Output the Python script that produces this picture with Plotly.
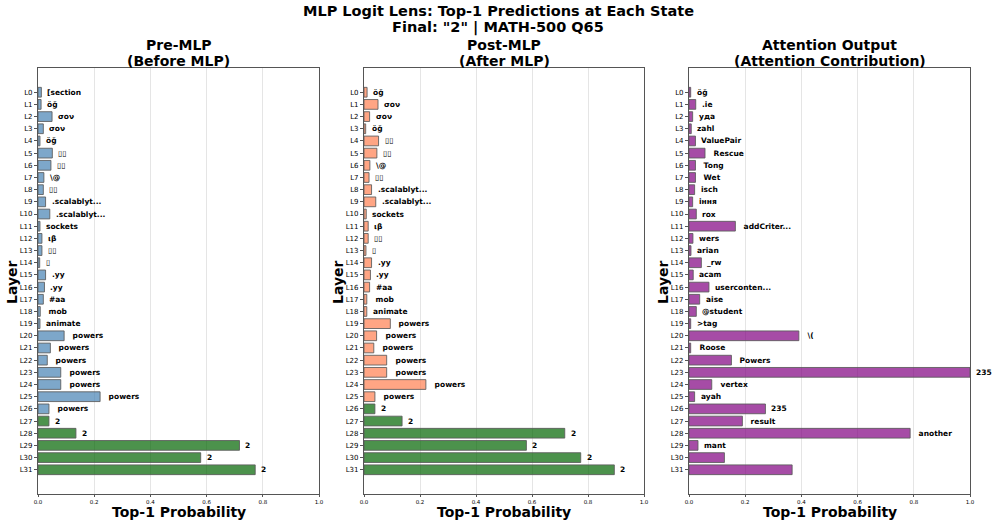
import plotly.graph_objects as go

NB = "\u00a0"
layers = [f"L{i}" for i in range(32)]
final_token = "2"

pre_tokens = ["[section", "öğ", "σον", "σον", "öğ", "▯▯", "▯▯", "\\@", "▯▯", ".scalablyt...",
              ".scalablyt...", "sockets", "ιβ", "▯▯", "▯", ".yy", ".yy", "#aa", NB + "mob", "animate",
              NB + "powers", NB + "powers", NB + "powers", NB + "powers", NB + "powers", NB + "powers",
              NB + "powers", "2", "2", "2", "2", "2"]
pre_probs = [0.012, 0.011, 0.050, 0.019, 0.007, 0.051, 0.046, 0.021, 0.019, 0.027,
             0.042, 0.007, 0.014, 0.014, 0.006, 0.027, 0.023, 0.019, 0.008, 0.007,
             0.093, 0.044, 0.033, 0.081, 0.081, 0.221, 0.039, 0.039, 0.135, 0.717,
             0.579, 0.773]

post_tokens = ["öğ", "σον", "σον", "öğ", "▯▯", "▯▯", "\\@", "▯▯", ".scalablyt...", ".scalablyt...",
               "sockets", "ιβ", "▯▯", "▯", ".yy", ".yy", "#aa", NB + "mob", "animate", NB + "powers",
               NB + "powers", NB + "powers", NB + "powers", NB + "powers", NB + "powers", NB + "powers",
               "2", "2", "2", "2", "2", "2"]
post_probs = [0.011, 0.050, 0.020, 0.006, 0.052, 0.046, 0.021, 0.018, 0.027, 0.042,
              0.008, 0.015, 0.015, 0.007, 0.027, 0.023, 0.020, 0.010, 0.010, 0.094,
              0.045, 0.035, 0.081, 0.081, 0.221, 0.039, 0.039, 0.136, 0.717, 0.580,
              0.774, 0.894]

attn_tokens = ["öğ", ".ie", "уда", "zahl", "ValuePair", NB + "Rescue", NB + "Tong", NB + "Wet", "isch", "іння",
               "rox", NB + "addCriter...", "wers", "arian", "_rw", "acam", "userconten...", "aise", "@student", ">tag",
               NB + "\\(", NB + "Roose", NB + "Powers", "235", NB + "vertex", "ayah", "235", NB + "result",
               NB + "another", "mant", "", ""]
attn_probs = [0.006, 0.024, 0.013, 0.008, 0.023, 0.057, 0.023, 0.023, 0.020, 0.013,
              0.026, 0.165, 0.014, 0.007, 0.044, 0.015, 0.071, 0.038, 0.026, 0.006,
              0.391, 0.006, 0.151, 1.000, 0.081, 0.020, 0.272, 0.190, 0.787, 0.032,
              0.126, 0.367]

title_lines = ["MLP Logit Lens: Top-1 Predictions at Each State", "Final: \"2\" | MATH-500 Q65"]
panel_titles = [["Pre-MLP", "(Before MLP)"], ["Post-MLP", "(After MLP)"],
                ["Attention Output", "(Attention Contribution)"]]
x_label = "Top-1 Probability"
y_label = "Layer"
base_colors = ["rgba(70,130,180,0.7)", "rgba(255,127,80,0.7)", "rgba(128,0,128,0.7)"]
match_color = "rgba(0,100,0,0.7)"
x_ticks = [0.0, 0.2, 0.4, 0.6, 0.8, 1.0]

W, H = 996, 524
PX0, PX1 = 38, 970      # plot area in page pixels
PY0, PY1 = 68, 494
L = PX0
R = W - PX1
T = PY0
B = H - PY1


def px_x(p):
    return (p - PX0) / (PX1 - PX0)


def px_y(p):
    return (PY1 - p) / (PY1 - PY0)


domains = [[px_x(38), px_x(319)], [px_x(364), px_x(644)], [px_x(689), px_x(970)]]

fig = go.Figure()
panels = [(pre_tokens, pre_probs), (post_tokens, post_probs), (attn_tokens, attn_probs)]
font = "DejaVu Sans, Verdana, sans-serif"


def fmt(t):
    if t and set(t) <= {"▯"}:
        return t
    return "<b>" + t + "</b>"


annotations = []
for k, (toks, probs) in enumerate(panels):
    ax = "" if k == 0 else str(k + 1)
    colors = [match_color if t.strip(NB) == final_token else base_colors[k] for t in toks]
    fig.add_trace(go.Bar(
        x=probs, y=list(range(32)), orientation="h", width=0.8,
        marker=dict(color=colors, line=dict(color="rgba(90,90,90,0.85)", width=1)),
        xaxis="x" + ax, yaxis="y" + ax, showlegend=False, hoverinfo="skip",
    ))
    for i, (t, p) in enumerate(zip(toks, probs)):
        if not t:
            continue
        annotations.append(dict(text=fmt(t), x=p, y=i, xref="x" + ax, yref="y" + ax,
                                xanchor="left", yanchor="middle", xshift=4, showarrow=False,
                                font=dict(family=font, size=7.5, color="black")))
    fig.update_layout(**{
        "xaxis" + ax: dict(domain=domains[k], range=[0, 1], tickvals=x_ticks,
                           ticktext=[f"{v:.1f}" for v in x_ticks],
                           tickfont=dict(family=font, size=5.5, color="black"),
                           showgrid=True, gridcolor="rgba(0,0,0,0.1)", gridwidth=1,
                           showline=True, linecolor="#555", linewidth=1.2, mirror=True,
                           ticks="outside", ticklen=2, tickcolor="#555", zeroline=False,
                           anchor="y" + ax, fixedrange=True),
        "yaxis" + ax: dict(domain=[0, 1], range=[32.99, -1.99], tickvals=list(range(32)),
                           ticktext=layers, tickfont=dict(family=font, size=7, color="black"),
                           showgrid=False, showline=True, linecolor="#555", linewidth=1.2,
                           mirror=True, ticks="outside", ticklen=3, tickcolor="#555",
                           zeroline=False, anchor="x" + ax, fixedrange=True),
    })


def ann(text, xp, yp, size, angle=0):
    return dict(text="<b>" + text + "</b>", x=px_x(xp), y=px_y(yp), textangle=angle,
                xref="paper", yref="paper", showarrow=False, xanchor="center", yanchor="middle",
                font=dict(family=font, size=size, color="black"))


centers = [(38 + 319) / 2, (364 + 644) / 2, (689 + 970) / 2]
for k in range(3):
    annotations.append(ann(panel_titles[k][0], centers[k], 45, 14))
    annotations.append(ann(panel_titles[k][1], centers[k], 61, 14))
    annotations.append(ann(x_label, centers[k], 512, 14))
for xp in [12, 338, 663]:
    annotations.append(ann(y_label, xp, 282, 14, -90))
annotations.append(ann(title_lines[0], 498, 11, 14.5))
annotations.append(ann(title_lines[1], 498, 27, 14.5))

fig.update_layout(width=W, height=H, margin=dict(l=L, r=R, t=T, b=B),
                  paper_bgcolor="white", plot_bgcolor="white", annotations=annotations)

fig.write_html("out.html", config={"displayModeBar": False},
               post_script="document.body.style.margin='0';document.body.style.overflow='hidden';")
